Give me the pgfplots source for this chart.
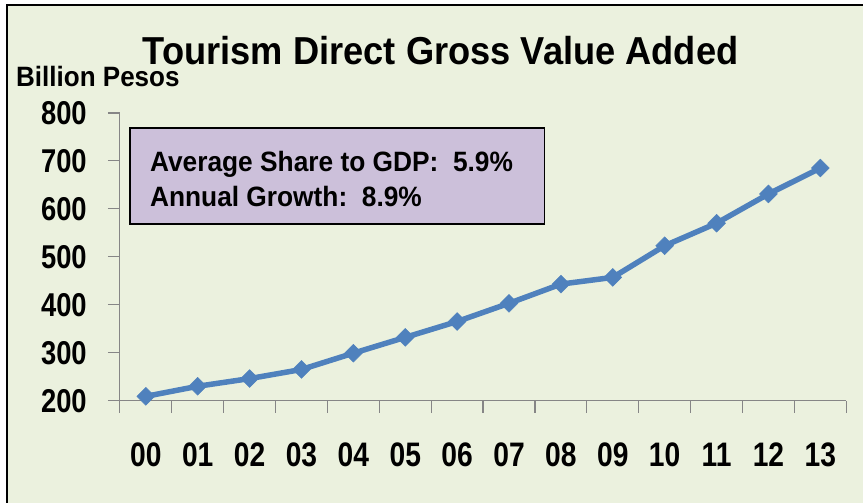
\documentclass[border=0pt]{standalone}
\usepackage{fontspec}
\setmainfont{Liberation Sans}
\newfontfamily\ftitle[FakeStretch=0.93]{Liberation Sans}
\newfontfamily\fboxtxt[FakeStretch=0.94]{Liberation Sans}
\newfontfamily\fx[FakeStretch=0.83]{Liberation Sans}
\usepackage{pgfplots}
\pgfplotsset{compat=1.18}
\definecolor{bg}{RGB}{235,241,222}
\definecolor{boxfill}{RGB}{204,192,218}
\definecolor{line}{RGB}{79,129,189}
\definecolor{axgray}{RGB}{134,134,134}
\begin{document}
\begin{tikzpicture}[x=1pt,y=1pt]
\fill[white] (0,0) rectangle (864,503);
\fill[bg] (7,0) rectangle (864,498);
\draw[black,line width=1.5pt] (7,0) -- (7,498) -- (864,498);
\begin{axis}[
  at={(120pt,102pt)}, anchor=south west,
  scale only axis, width=727pt, height=288pt,
  xmin=-0.5, xmax=13.5, ymin=200, ymax=800,
  axis x line*=bottom, axis y line*=left,
  axis line style={axgray, line width=1.2pt, -},
  every tick/.style={axgray, line width=1.2pt},
  tick align=outside,
  xtick={0,...,13},
  xticklabels={00,01,02,03,04,05,06,07,08,09,10,11,12,13},
  major x tick style={draw=none},
  minor xtick={-0.5,0.5,...,13.5},
  minor tick length=12pt,
  major tick length=12pt,
  ytick={200,300,...,800},
  /pgf/number format/assume math mode=true,
  yticklabel style={font=\fx\bfseries\fontsize{33}{33}\selectfont, anchor=east, inner sep=0pt, xshift=-21pt},
  xticklabel style={font=\fx\bfseries\fontsize{34}{34}\selectfont, anchor=north, inner sep=0pt, yshift=-30pt},
  clip=false,
]
\addplot[line, line width=5.5pt, mark=square*, mark size=6.3pt, mark options={rotate=45, solid, fill=line, draw=line, line width=0.5pt}]
coordinates {
(0,209) (1,230) (2,246) (3,265) (4,299) (5,332) (6,365) (7,403)
(8,443) (9,457) (10,523) (11,570) (12,631) (13,685)
};
\end{axis}
\node[anchor=base, inner sep=0pt] at (441,438) {\ftitle\bfseries\fontsize{39}{39}\selectfont Tourism Direct Gross Value Added};
\node[anchor=base west, inner sep=0pt] at (16,416) {\ftitle\bfseries\fontsize{28}{28}\selectfont Billion Pesos};
\draw[black, line width=1.5pt, fill=boxfill] (130,375) rectangle (545,279);
\node[anchor=base west, inner sep=0pt] at (150,331) {\fboxtxt\bfseries\fontsize{28}{28}\selectfont Average Share to GDP:\ \ 5.9\%};
\node[anchor=base west, inner sep=0pt] at (150,296) {\fboxtxt\bfseries\fontsize{28}{28}\selectfont Annual Growth:\ \ 8.9\%};
\end{tikzpicture}
\end{document}
